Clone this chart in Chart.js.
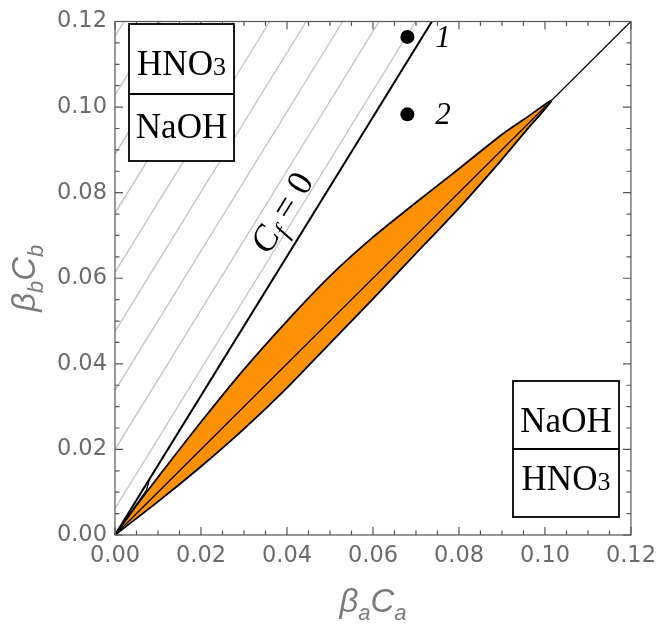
<!DOCTYPE html>
<html lang="en">
<head>
<meta charset="UTF-8">
<title>C_f region</title>
<script src="https://cdn.jsdelivr.net/npm/chart.js@4"></script>
<style>
  html, body { margin: 0; padding: 0; background: #fff; }
  canvas { display: block; }
</style>
</head>
<body>
<canvas id="chart" width="664" height="628"></canvas>
<script>
// axis ticks
const xTicks = [0, 0.02, 0.04, 0.06, 0.08, 0.10, 0.12];
const yTicks = [0, 0.02, 0.04, 0.06, 0.08, 0.10, 0.12];
const minorStep = 0.005;

// orange region: upper edge from origin to the tip, lower edge back to origin
const upperX = [0, 0.005, 0.01, 0.02, 0.03, 0.04, 0.05, 0.06, 0.07, 0.08, 0.09, 0.0955, 0.1015];
const upperY = [0, 0.0069, 0.0135, 0.0264, 0.0387, 0.0500, 0.0605, 0.0696, 0.0777, 0.0856, 0.0936, 0.0974, 0.1015];
const lowerX = [0.0955, 0.09, 0.08, 0.07, 0.06, 0.05, 0.04, 0.03, 0.02, 0.01, 0];
const lowerY = [0.0944, 0.0878, 0.0764, 0.0658, 0.0552, 0.0448, 0.0344, 0.0248, 0.0160, 0.0078, 0];

// diagonal y = x
const diagX = [0, 0.12];
const diagY = [0, 0.12];

// C_f = 0 line and hatching parallel to it (intercepts on the y axis)
const cfSlope = 1.628;
const hatchIntercepts = [0.0062, 0.0200, 0.0338, 0.0476, 0.0614, 0.0752, 0.0890, 0.1028, 0.1166];

// thin sliver next to the C_f = 0 line near the origin
const sliverX = [0, 0.0073, 0.0080];
const sliverY = [0, 0.0104, 0.0130];

// marked points
const pointX = [0.068, 0.068];
const pointY = [0.1164, 0.0983];
const pointNames = ['1', '2'];

const xy = (xs, ys) => xs.map((x, i) => ({x: x, y: ys[i]}));

const datasets = [];

datasets.push({
    data: xy(pointX, pointY),
    showLine: false,
    pointRadius: 7,
    pointBackgroundColor: '#000',
    pointBorderWidth: 0,
    order: 0
});

datasets.push({
    data: xy([0, 0.12 / cfSlope], [0, 0.12]),
    borderColor: '#000',
    borderWidth: 2,
    pointRadius: 0,
    order: 1
});

datasets.push({
    data: xy(sliverX, sliverY),
    borderColor: '#000',
    borderWidth: 1.3,
    pointRadius: 0,
    order: 2
});

datasets.push({
    data: xy(diagX, diagY),
    borderColor: '#000',
    borderWidth: 1.3,
    pointRadius: 0,
    order: 3
});

datasets.push({
    data: xy(upperX.concat(lowerX), upperY.concat(lowerY)),
    borderColor: '#000',
    borderWidth: 1.8,
    backgroundColor: '#fc9106',
    fill: 'shape',
    tension: 0.25,
    pointRadius: 0,
    order: 4
});

hatchIntercepts.forEach(c => {
    datasets.push({
        data: xy([0, (0.12 - c) / cfSlope], [c, 0.12]),
        borderColor: '#c4c4c4',
        borderWidth: 1.4,
        pointRadius: 0,
        order: 5
    });
});

function drawParts(ctx, parts, x, y, align) {
    // parts: [text, font, dy]
    let w = 0;
    parts.forEach(p => { ctx.font = p[1]; w += ctx.measureText(p[0]).width; });
    let cx = align === 'center' ? x - w / 2 : x;
    parts.forEach(p => {
        ctx.font = p[1];
        ctx.fillText(p[0], cx, y + (p[2] || 0));
        cx += ctx.measureText(p[0]).width;
    });
}

function chemBox(ctx, l, t, r, b, mid, top, bottom) {
    ctx.fillStyle = '#fff';
    ctx.fillRect(l, t, r - l, b - t);
    ctx.strokeStyle = '#000';
    ctx.lineWidth = 1.8;
    ctx.strokeRect(l, t, r - l, b - t);
    ctx.beginPath();
    ctx.moveTo(l, mid);
    ctx.lineTo(r, mid);
    ctx.stroke();
    ctx.fillStyle = '#000';
    ctx.textAlign = 'left';
    ctx.textBaseline = 'alphabetic';
    drawParts(ctx, top.parts, (l + r) / 2, top.base, 'center');
    drawParts(ctx, bottom.parts, (l + r) / 2, bottom.base, 'center');
}

const serif = '"Liberation Serif", "Times New Roman", serif';
const hno3 = [['HNO', '35px ' + serif], ['3', '26px ' + serif]];
const naoh = [['NaOH', '35px ' + serif]];

const decor = {
    id: 'decor',
    afterDraw(chart) {
        const {ctx, chartArea: a, scales: {x, y}} = chart;
        ctx.save();

        // frame with inward ticks on all four sides
        ctx.strokeStyle = '#555';
        ctx.lineWidth = 1.2;
        ctx.strokeRect(a.left, a.top, a.right - a.left, a.bottom - a.top);
        const n = Math.round(0.12 / minorStep);
        ctx.beginPath();
        for (let i = 0; i <= n; i++) {
            const v = i * minorStep;
            const len = i % 4 === 0 ? 8 : 4.5;
            const px = x.getPixelForValue(v), py = y.getPixelForValue(v);
            ctx.moveTo(px, a.bottom); ctx.lineTo(px, a.bottom - len);
            ctx.moveTo(px, a.top); ctx.lineTo(px, a.top + len);
            ctx.moveTo(a.left, py); ctx.lineTo(a.left + len, py);
            ctx.moveTo(a.right, py); ctx.lineTo(a.right - len, py);
        }
        ctx.stroke();

        // boxes
        chemBox(ctx, 129, 24, 234, 161, 94, {parts: hno3, base: 75}, {parts: naoh, base: 138});
        chemBox(ctx, 513, 381, 619, 517, 449, {parts: naoh, base: 432}, {parts: hno3, base: 490});

        // point labels
        ctx.fillStyle = '#000';
        ctx.font = 'italic 31px ' + serif;
        ctx.textAlign = 'left';
        pointNames.forEach((name, i) => {
            ctx.fillText(name, x.getPixelForValue(pointX[i]) + 28, y.getPixelForValue(pointY[i]) + 10);
        });

        // C_f = 0 along the line
        const x0 = x.getPixelForValue(0), y0 = y.getPixelForValue(0);
        const x1 = x.getPixelForValue(0.12 / cfSlope), y1 = y.getPixelForValue(0.12);
        const ang = Math.atan2(y1 - y0, x1 - x0);
        ctx.save();
        ctx.translate(x0 + Math.cos(ang) * 362, y0 + Math.sin(ang) * 362);
        ctx.rotate(ang);
        drawParts(ctx, [['C', 'italic 36px ' + serif], ['f', 'italic 25px ' + serif, 7], [' = 0', '36px ' + serif]], 0, -16, 'center');
        ctx.restore();

        // axis titles
        const sans = '"Liberation Sans", Arial, sans-serif';
        ctx.fillStyle = '#7a7a7a';
        drawParts(ctx, [['\u03b2', 'italic 33px ' + sans], ['a', 'italic 22px ' + sans, 8],
                        ['C', 'italic 33px ' + sans], ['a', 'italic 22px ' + sans, 8]],
                  (a.left + a.right) / 2, 612, 'center');
        ctx.save();
        ctx.translate(35, (a.top + a.bottom) / 2);
        ctx.rotate(-Math.PI / 2);
        drawParts(ctx, [['\u03b2', 'italic 33px ' + sans], ['b', 'italic 22px ' + sans, 8],
                        ['C', 'italic 33px ' + sans], ['b', 'italic 22px ' + sans, 8]],
                  0, 0, 'center');
        ctx.restore();

        ctx.restore();
    }
};

const tickFont = {family: '"DejaVu Sans", sans-serif', size: 22.5};

new Chart(document.getElementById('chart'), {
    type: 'line',
    data: {datasets: datasets},
    options: {
        responsive: false,
        animation: false,
        layout: {padding: {top: 16, right: 28, left: 0, bottom: 0}},
        plugins: {
            legend: {display: false},
            tooltip: {enabled: false}
        },
        scales: {
            x: {
                type: 'linear',
                min: 0,
                max: 0.12,
                afterBuildTicks: s => { s.ticks = xTicks.map(v => ({value: v})); },
                afterFit: s => { s.height = 93; },
                grid: {display: false, drawTicks: false},
                border: {display: false},
                ticks: {
                    callback: v => v.toFixed(2),
                    color: '#6b6b6b',
                    font: tickFont,
                    padding: 8,
                    maxRotation: 0,
                    autoSkip: false
                }
            },
            y: {
                type: 'linear',
                min: 0,
                max: 0.12,
                afterBuildTicks: s => { s.ticks = yTicks.map(v => ({value: v})); },
                afterFit: s => { s.width = 115; },
                grid: {display: false, drawTicks: false},
                border: {display: false},
                ticks: {
                    callback: v => v.toFixed(2),
                    color: '#6b6b6b',
                    font: tickFont,
                    padding: 8,
                    autoSkip: false
                }
            }
        }
    },
    plugins: [decor]
});
</script>
</body>
</html>
